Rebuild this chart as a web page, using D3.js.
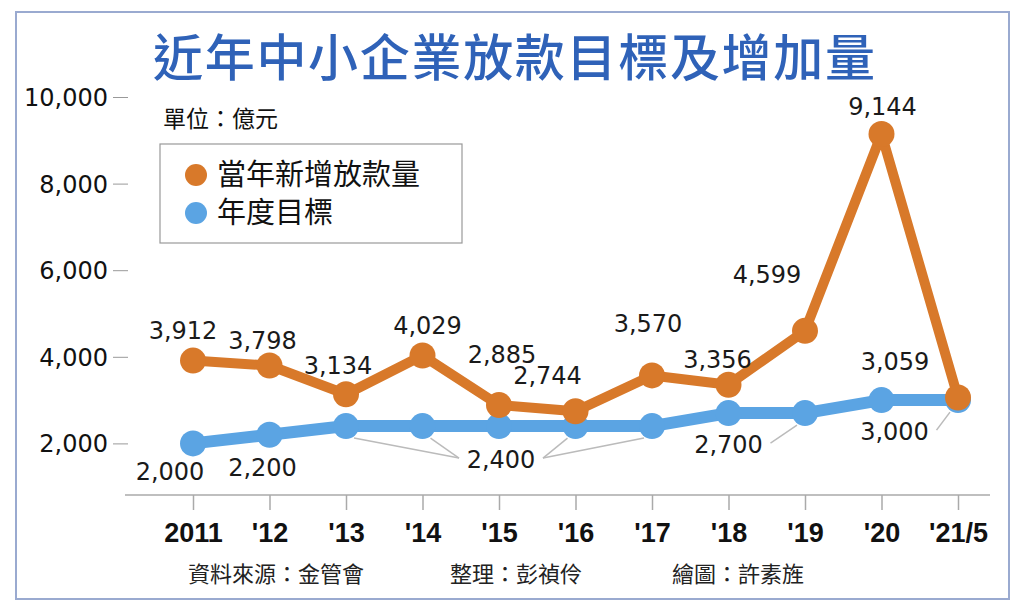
<!DOCTYPE html>
<html lang="zh-Hant">
<head>
<meta charset="utf-8"/>
<title>近年中小企業放款目標及增加量</title>
<script src="https://d3js.org/d3.v7.min.js"></script>
<style>
body { margin: 0; background: #fff; }
.num { font-family: "DejaVu Sans", "Liberation Sans", sans-serif; fill: #1a1a1a; }
.cjk { font-family: "Noto Sans CJK TC", "Noto Sans CJK SC", sans-serif; }
.axis text { font-family: "DejaVu Sans", "Liberation Sans", sans-serif; fill: #111; }
.xaxis text { font-family: "Liberation Sans", sans-serif; font-weight: bold; fill: #111; }
</style>
</head>
<body>
<div id="chart"></div>
<script>
// chart values
var years   = ["2011", "'12", "'13", "'14", "'15", "'16", "'17", "'18", "'19", "'20", "'21/5"];
var newLoan = [3912, 3798, 3134, 4029, 2885, 2744, 3570, 3356, 4599, 9144, 3059];
var target  = [2000, 2200, 2400, 2400, 2400, 2400, 2400, 2700, 2700, 3000, 3000];
var yTicks  = [2000, 4000, 6000, 8000, 10000];

// label nudges (pixels from point)
var loanLabelOff = [[-10,-22],[-7,-17],[-8,-20],[5,-22],[3,-42],[-28,-27],[-4,-43],[-11,-17],[-38,-48],[1,-19],[-63,-28]];
var groupLabels = [
  {text: "2,000", idx: [0], at: 0, dx: -23, dy: 37},
  {text: "2,200", idx: [1], at: 1, dx: -7, dy: 41},
  {text: "2,400", idx: [2,3,4,5,6], at: 4, dx: 2, dy: 42},
  {text: "2,700", idx: [7,8], at: 7, dx: 0, dy: 40},
  {text: "3,000", idx: [9,10], at: 9, dx: 13, dy: 40}
];

var w = 1024, h = 612;
var orange = "#d8792a", blue = "#5ba4e3";

var svg = d3.select("#chart").append("svg")
  .attr("width", w).attr("height", h);

// frame
svg.append("rect")
  .attr("x", 16).attr("y", 12).attr("width", 993).attr("height", 587)
  .attr("fill", "#fff").attr("stroke", "#9aaad0").attr("stroke-width", 2);

var xScale = d3.scalePoint().domain(years).range([193, 958]);
var yScale = d3.scaleLinear().domain([0, 10000]).range([530, 97]);

// title
svg.append("text")
  .attr("class", "cjk")
  .attr("x", 153).attr("y", 76)
  .attr("textLength", 722)
  .attr("font-size", 50).attr("font-weight", 500)
  .attr("fill", "#2f62b8")
  .text("近年中小企業放款目標及增加量");

// y axis
var yAxis = d3.axisLeft(yScale).tickValues(yTicks).tickSize(15).tickPadding(5)
  .tickFormat(d3.format(","));
var gy = svg.append("g").attr("class", "axis").attr("transform", "translate(128,0)").call(yAxis);
gy.select(".domain").remove();
gy.selectAll("line").attr("stroke", "#999");
gy.selectAll("text").attr("font-size", 24).attr("dy", "0.35em");

// x axis
var xAxis = d3.axisBottom(xScale).tickSize(15).tickPadding(8);
var gx = svg.append("g").attr("class", "xaxis").attr("transform", "translate(0,495)").call(xAxis);
gx.select(".domain").attr("d", "M125,0H990").attr("stroke", "#aaa").attr("stroke-width", 1.5);
gx.selectAll("line").attr("stroke", "#aaa").attr("stroke-width", 1.5);
gx.selectAll("text").attr("font-size", 27).attr("dy", "0.9em");

// unit
svg.append("text").attr("class", "cjk")
  .attr("x", 163).attr("y", 127).attr("font-size", 23).attr("fill", "#111")
  .text("單位：億元");

// legend
svg.append("rect")
  .attr("x", 160).attr("y", 144).attr("width", 302).attr("height", 99)
  .attr("fill", "#fff").attr("stroke", "#999").attr("stroke-width", 1.2);
var legend = [{label: "當年新增放款量", color: orange}, {label: "年度目標", color: blue}];
var lg = svg.selectAll(".leg").data(legend).enter().append("g")
  .attr("transform", function(d, i) { return "translate(196," + (175 + i * 38) + ")"; });
lg.append("circle").attr("r", 11).attr("fill", function(d) { return d.color; });
lg.append("text").attr("class", "cjk")
  .attr("x", 21).attr("y", 10).attr("font-size", 29).attr("fill", "#111")
  .text(function(d) { return d.label; });

// leader lines for target labels
var line = d3.line().x(function(d) { return d[0]; }).y(function(d) { return d[1]; });
groupLabels.forEach(function(g) {
  if (g.idx.length < 2) return;
  var lx = xScale(years[g.at]) + g.dx;
  var ly = yScale(target[g.at]) + g.dy - 10;
  g.idx.forEach(function(i) {
    if (i === g.at) return;
    var px = xScale(years[i]), py = yScale(target[i]) + 12;
    var sx = px < lx ? lx - 42 : lx + 42;
    svg.append("path")
      .attr("d", line([[px + (px < lx ? 8 : -8), py], [sx, ly]]))
      .attr("stroke", "#bbb").attr("stroke-width", 1.5).attr("fill", "none");
  });
});

// blue target line
var yrIdx = d3.range(years.length);
svg.append("path")
  .datum(yrIdx)
  .attr("fill", "none").attr("stroke", blue).attr("stroke-width", 12)
  .attr("stroke-linejoin", "round")
  .attr("d", d3.line().x(function(i) { return xScale(years[i]); }).y(function(i) { return yScale(target[i]); }));
svg.selectAll(".tdot").data(yrIdx).enter().append("circle")
  .attr("cx", function(i) { return xScale(years[i]); })
  .attr("cy", function(i) { return yScale(target[i]); })
  .attr("r", 13).attr("fill", blue);

// orange loan line
svg.append("path")
  .datum(yrIdx)
  .attr("fill", "none").attr("stroke", orange).attr("stroke-width", 10)
  .attr("stroke-linejoin", "round")
  .attr("d", d3.line().x(function(i) { return xScale(years[i]); }).y(function(i) { return yScale(newLoan[i]); }));
svg.selectAll(".ldot").data(yrIdx).enter().append("circle")
  .attr("cx", function(i) { return xScale(years[i]); })
  .attr("cy", function(i) { return yScale(newLoan[i]); })
  .attr("r", 13).attr("fill", orange);

// loan labels
svg.selectAll(".llab").data(yrIdx).enter().append("text")
  .attr("class", "num")
  .attr("text-anchor", "middle").attr("font-size", 24)
  .attr("x", function(i) { return xScale(years[i]) + loanLabelOff[i][0]; })
  .attr("y", function(i) { return yScale(newLoan[i]) + loanLabelOff[i][1]; })
  .text(function(i) { return d3.format(",")(newLoan[i]); });

// target labels
svg.selectAll(".tlab").data(groupLabels).enter().append("text")
  .attr("class", "num")
  .attr("text-anchor", "middle").attr("font-size", 24)
  .attr("x", function(g) { return xScale(years[g.at]) + g.dx; })
  .attr("y", function(g) { return yScale(target[g.at]) + g.dy; })
  .text(function(g) { return g.text; });

// footer
var credits = [["資料來源：金管會", 188], ["整理：彭禎伶", 450], ["繪圖：許素旌", 672]];
svg.selectAll(".cred").data(credits).enter().append("text")
  .attr("class", "cjk")
  .attr("x", function(d) { return d[1]; }).attr("y", 582)
  .attr("font-size", 22).attr("fill", "#222")
  .text(function(d) { return d[0]; });
</script>
</body>
</html>
